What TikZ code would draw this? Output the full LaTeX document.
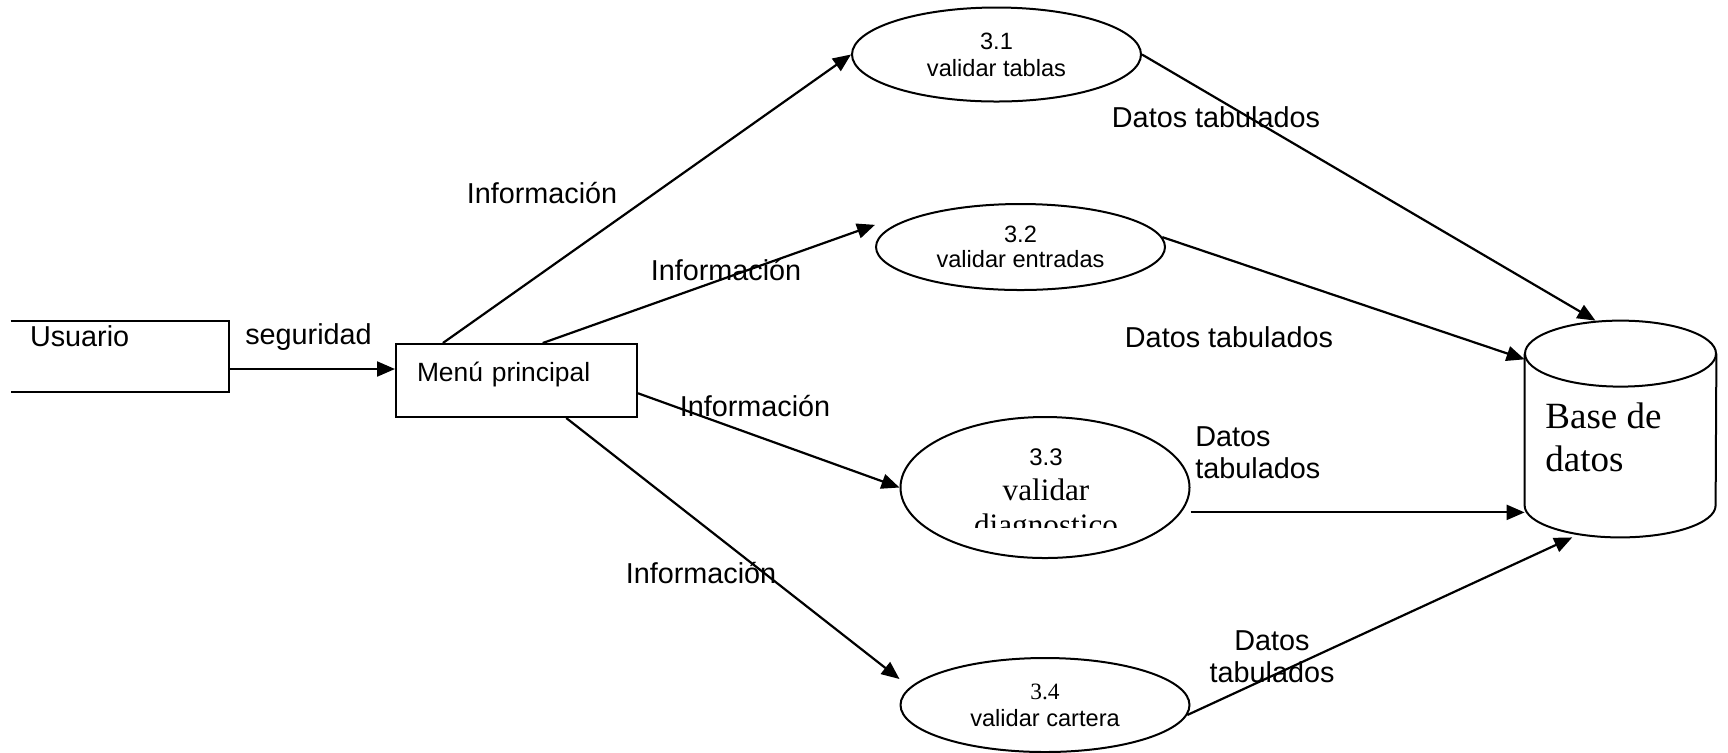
\documentclass[tikz,border=0pt]{standalone}
\usepackage{fontspec}
\setmainfont{Liberation Sans}
\newfontfamily\timesf{Liberation Serif}
\usetikzlibrary{shapes.geometric,arrows.meta}

\tikzset{
  flow/.style={-{Triangle[length=9pt,width=7.5pt]}, line width=1.1pt},
  proc/.style={ellipse, draw, line width=1pt, minimum width=144.5pt, inner sep=0pt,
    align=center, font=\fontsize{11.8}{13.5}\selectfont},
  lbl/.style={font=\fontsize{14.4}{16}\selectfont, inner sep=0pt, align=left},
}

\begin{document}
\begin{tikzpicture}[x=0.5pt, y=-0.5pt]
  \useasboundingbox (0,0) rectangle (1728,752);

  % entidad externa y menu
  \node[minimum width=109pt, minimum height=35.5pt, inner xsep=9.5pt, inner ysep=0pt,
        text width=90pt, align=left, text height=10pt, text depth=20pt,
        font=\fontsize{14.4}{16}\selectfont] (usr) at (120,356.5) {Usuario};
  \draw[line width=1pt] (usr.north west) -- (usr.north east) -- (usr.south east) -- (usr.south west);

  \node[draw, line width=1pt, minimum width=120.5pt, minimum height=36.5pt, inner xsep=10.5pt,
        text width=99.5pt, align=left, text height=10pt, text depth=9pt,
        font=\fontsize{13.2}{15}\selectfont] (menu) at (516.5,380.5) {Menú principal};

  % procesos
  \node[proc, minimum height=47pt] (e31) at (996.5,54.5) {3.1\\validar tablas};
  \node[proc, minimum height=43pt, font=\fontsize{11.8}{12.5}\selectfont] (e32) at (1020.5,247) {3.2\\validar entradas};
  \node[proc, minimum height=70.5pt] (e33) at (1045,487.5) {};
  \begin{scope}
    \clip (900,400) rectangle (1190,527);
    \node[align=center, inner sep=0pt, anchor=north, font=\fontsize{15.6}{17.5}\selectfont] (e33txt) at (1046,448)
      {{\fontsize{12}{14}\selectfont 3.3}\\{\timesf validar}\\{\timesf diagnostico}};
  \end{scope}
  \node[proc, minimum height=47pt, font=\fontsize{11.8}{13.5}\selectfont] (e34) at (1045,705)
    {{\timesf\fontsize{11.7}{13.5}\selectfont 3.4}\\validar cartera};

  % almacen
  \node[minimum width=95.5pt, minimum height=108pt, inner sep=0pt] (db) at (1620.5,429) {};
  \draw[line width=1pt] ([yshift=-16.5pt]db.north) ellipse [x radius=47.75pt, y radius=16.5pt];
  \draw[line width=1pt] ([yshift=-16.5pt]db.north west) -- ([yshift=16pt]db.south west)
    arc (180:360:47.75pt and 16pt) -- ([yshift=-16.5pt]db.north east);
  \node[font=\timesf\fontsize{18.5}{21.5}\selectfont, align=left, anchor=north west,
        inner sep=0pt] (dbtxt) at (1545,402) {Base de\\datos};

  % etiquetas
  \node[lbl] (seg) at (308.5,337) {seguridad};
  \node[lbl] (info1) at (542,193) {Información};
  \node[lbl] (info2) at (726,270) {Información};
  \node[lbl] (info3) at (755,406) {Información};
  \node[lbl] (info4) at (701,573) {Información};
  \node[lbl] (dt1) at (1216,117) {Datos tabulados};
  \node[lbl] (dt2) at (1229,337) {Datos tabulados};
  \node[lbl, anchor=west] (dt3) at (1195,453) {Datos\\tabulados};
  \node[lbl, align=center] (dt4) at (1272,657) {Datos\\tabulados};

  % flujos
  \draw[flow] ([yshift=-6.25pt]usr.east) coordinate (s0) -- (s0 -| menu.west);
  \draw[flow] (menu.153) -- (e31.west);
  \draw[flow] (menu.55) -- (e32.west |- e32.170);
  \draw[flow] (menu.-6) -- (e33.west);
  \draw[flow] (menu.-37) -- (e34.west |- e34.168);
  \draw[flow] (e31.east) -- (db.103);
  \draw[flow] (e32.4) -- (db.144);
  \draw[flow] (e33.east |- db.221) -- (db.221);
  \draw[flow] (e34.-4) -- (db.246);
\end{tikzpicture}
\end{document}
